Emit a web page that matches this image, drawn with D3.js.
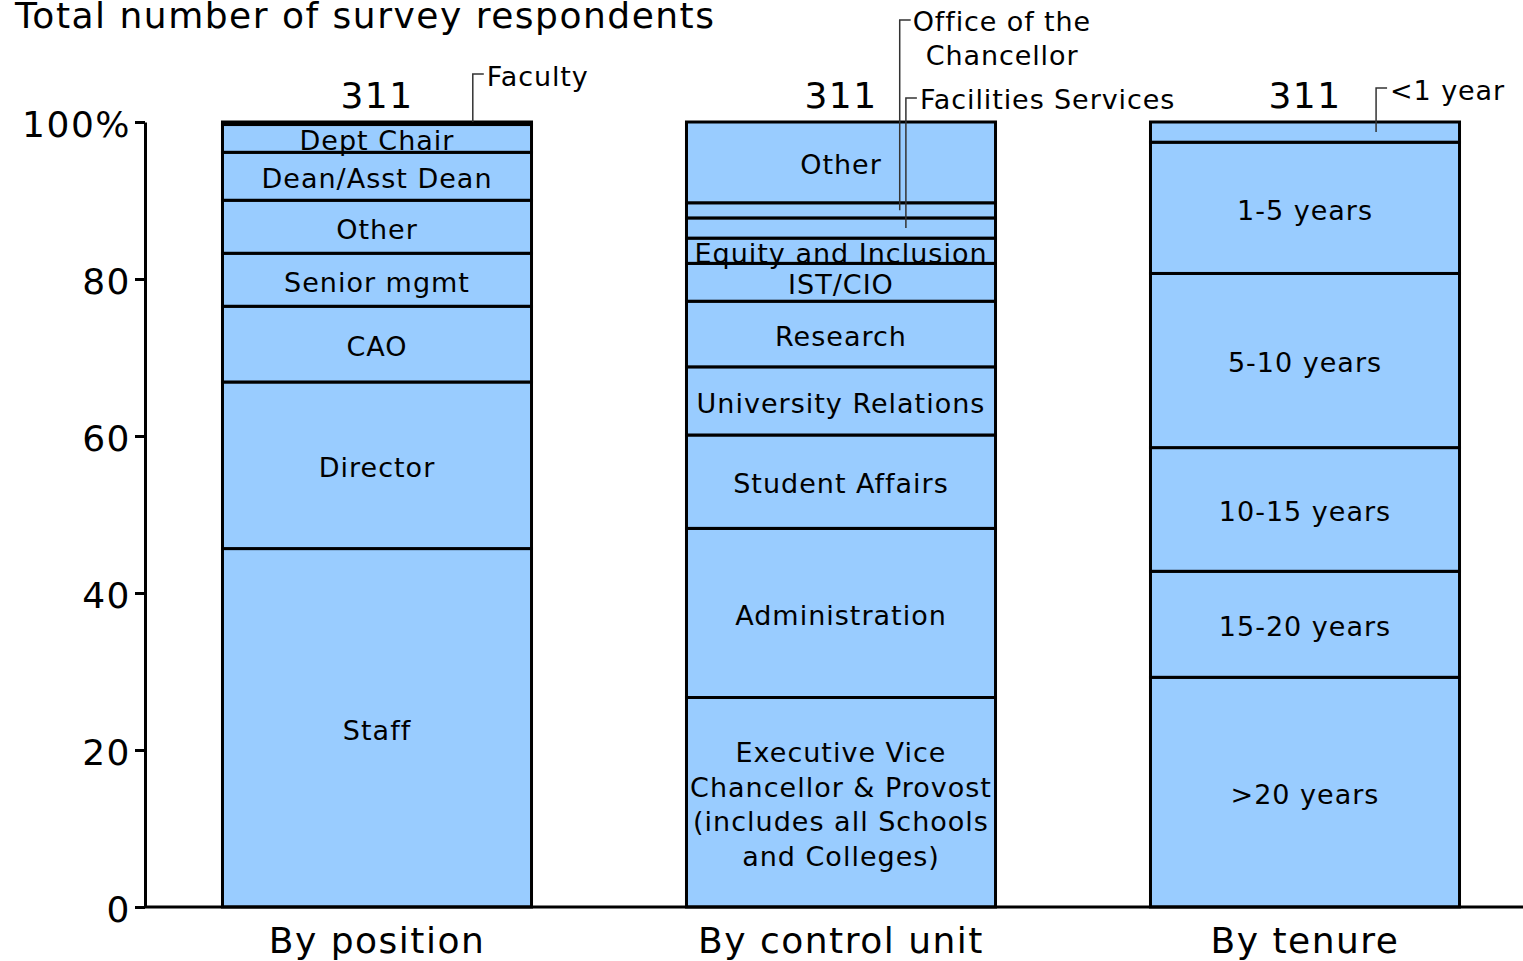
<!DOCTYPE html>
<html lang="en">
<head>
  <meta charset="UTF-8">
  <title>Total number of survey respondents</title>
  <script src="https://d3js.org/d3.v7.min.js"></script>
  <style>
    body { margin: 0; padding: 0; background: #fff; }
    svg { display: block; font-family: "DejaVu Sans", Verdana, sans-serif; }
    .seg { fill: #99ccff; stroke: #000; stroke-width: 3; }
    .seg-label { font-size: 27px; fill: #000; text-anchor: middle; letter-spacing: 1px; }
    .big { font-size: 36px; letter-spacing: 1.5px; }
    .callout path { stroke: #333; stroke-width: 1.5; fill: none; }
    .callout text { font-size: 27px; fill: #000; letter-spacing: 0.9px; }
    .axis text { font-size: 36px; fill: #000; font-family: "DejaVu Sans", Verdana, sans-serif; letter-spacing: 1.5px; }
    .axis path, .axis line { stroke: #000; stroke-width: 3; }
  </style>
</head>
<body>
<svg id="chart" width="1523" height="961"></svg>

<script>
  // data, stacked bottom to top
  const groups = ["By position", "By control unit", "By tenure"];
  const totals = [311, 311, 311];

  const positionLabels = ["Staff", "Director", "CAO", "Senior mgmt", "Other", "Dean/Asst Dean", "Dept Chair", "Faculty"];
  const positionCounts = [142, 66, 30, 21, 21, 19, 11, 1];

  const unitLabels = ["Executive Vice|Chancellor & Provost|(includes all Schools|and Colleges)", "Administration",
    "Student Affairs", "University Relations", "Research", "IST/CIO", "Equity and Inclusion",
    "Facilities Services", "Office of the|Chancellor", "Other"];
  const unitCounts = [83, 67, 37, 27, 26, 15, 10, 8, 6, 32];

  const tenureLabels = [">20 years", "15-20 years", "10-15 years", "5-10 years", "1-5 years", "<1 year"];
  const tenureCounts = [91, 42, 49, 69, 52, 8];

  const yTicks = [0, 20, 40, 60, 80, 100];

  // small segments get a callout instead of an inside label
  const calloutNames = ["Faculty", "Office of the|Chancellor", "Facilities Services", "<1 year"];

  const series = [
    { labels: positionLabels, counts: positionCounts },
    { labels: unitLabels, counts: unitCounts },
    { labels: tenureLabels, counts: tenureCounts }
  ];

  const svg = d3.select("#chart");
  const margin = { left: 145, top: 122, bottom: 907 };

  const x = d3.scaleBand()
    .domain(groups)
    .range([margin.left, margin.left + 3 * 464])
    .paddingInner(0.334)
    .paddingOuter(0.167);

  const y = d3.scaleLinear().domain([0, 100]).range([margin.bottom, margin.top]);

  // title (sits against the top edge, as in the original)
  svg.append("text")
    .attr("class", "big")
    .attr("x", 15).attr("y", 28)
    .text("Total number of survey respondents");

  // y axis
  svg.append("g")
    .attr("class", "axis")
    .attr("transform", `translate(${margin.left},0)`)
    .call(d3.axisLeft(y).tickValues(yTicks).tickSize(10).tickSizeOuter(0).tickPadding(4)
      .tickFormat(d => d === 100 ? "100%" : d))
    .selectAll("text").attr("dy", "0.4em");

  // segments
  groups.forEach((g, gi) => {
    const s = series[gi];
    const total = totals[gi];
    let cum = 0;
    const segs = s.counts.map((c, i) => {
      const d = { label: s.labels[i], y0: cum / total * 100, y1: (cum + c) / total * 100 };
      cum += c;
      return d;
    });

    const gEl = svg.append("g");
    gEl.selectAll("rect")
      .data(segs)
      .enter().append("rect")
        .attr("class", "seg")
        .attr("x", x(g))
        .attr("width", x.bandwidth())
        .attr("y", d => y(d.y1))
        .attr("height", d => y(d.y0) - y(d.y1));

    const cx = x(g) + x.bandwidth() / 2;

    segs.filter(d => !calloutNames.includes(d.label)).forEach(d => {
      const lines = d.label.split("|");
      const mid = (y(d.y0) + y(d.y1)) / 2;
      const lh = 34.5;
      const t = gEl.append("text").attr("class", "seg-label");
      lines.forEach((ln, li) => {
        t.append("tspan")
          .attr("x", cx)
          .attr("y", mid + 1 + (li - (lines.length - 1) / 2) * lh)
          .attr("dy", "0.4em")
          .text(ln);
      });
    });

    // total above bar
    svg.append("text")
      .attr("class", "big")
      .attr("x", cx)
      .attr("y", y(100) - 14)
      .attr("text-anchor", "middle")
      .text(total);

    // callouts
    segs.filter(d => calloutNames.includes(d.label)).forEach(d => {
      const conf = {
        "Faculty": { fx: 0.81, ay: y(100), ty: 74, dx: [14], tyl: [77] },
        "Office of the|Chancellor": { fx: 0.69, ay: null, ty: 20, dx: [13, 26], tyl: [22, 56] },
        "Facilities Services": { fx: 0.71, ay: null, ty: 98, dx: [14], tyl: [100] },
        "<1 year": { fx: 0.73, ay: null, ty: 88, dx: [14], tyl: [91] }
      }[d.label];
      const ax = x(g) + conf.fx * x.bandwidth();
      const ay = conf.ay !== null ? conf.ay : (y(d.y0) + y(d.y1)) / 2;
      const c = svg.append("g").attr("class", "callout");
      c.append("path")
        .attr("d", `M${ax},${ay}V${conf.ty}H${ax + 11}`);
      d.label.split("|").forEach((ln, li) => {
        c.append("text")
          .attr("x", ax + conf.dx[li])
          .attr("y", conf.tyl[li])
          .attr("dy", "0.35em")
          .text(ln);
      });
    });
  });

  // x axis baseline and labels
  svg.append("line")
    .attr("x1", margin.left).attr("x2", 1523)
    .attr("y1", y(0)).attr("y2", y(0))
    .attr("stroke", "#000").attr("stroke-width", 3);

  svg.append("g").selectAll("text")
    .data(groups)
    .enter().append("text")
      .attr("class", "big")
      .attr("x", d => x(d) + x.bandwidth() / 2)
      .attr("y", 940)
      .attr("dy", "0.35em")
      .attr("text-anchor", "middle")
      .text(d => d);
</script>
</body>
</html>
